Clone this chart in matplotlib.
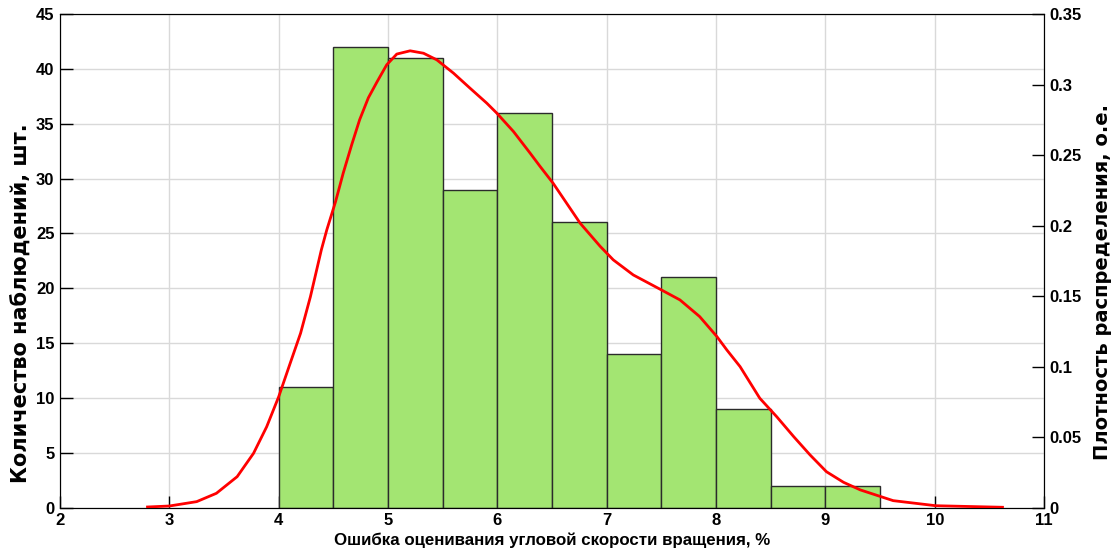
import numpy as np
import matplotlib
matplotlib.use("Agg")
import matplotlib.pyplot as plt

plt.rcParams["font.family"] = ["Liberation Sans", "DejaVu Sans"]
plt.rcParams["font.weight"] = "bold"

# histogram data
bin_left = [4.0, 4.5, 5.0, 5.5, 6.0, 6.5, 7.0, 7.5, 8.0, 8.5, 9.0]
counts = [11, 42, 41, 29, 36, 26, 14, 21, 9, 2, 2]
bin_width = 0.5

# density curve, points
curve_x = [2.80, 3.00, 3.25, 3.43, 3.62, 3.77, 3.89, 4.00, 4.105, 4.20, 4.29,
           4.39, 4.44, 4.52, 4.59, 4.668, 4.74, 4.82, 4.90, 4.927, 4.988,
           5.08, 5.202, 5.324, 5.446, 5.598, 5.75, 5.903, 5.995, 6.147, 6.30,
           6.39, 6.51, 6.757, 6.94, 7.06, 7.243, 7.50, 7.67, 7.85, 8.008,
           8.099, 8.22, 8.40, 8.555, 8.71, 8.86, 9.01, 9.166, 9.32, 9.62,
           10.01, 10.62]
curve_y = [0.0005, 0.0012, 0.0043, 0.0102, 0.022, 0.0386, 0.0574, 0.0787,
           0.1024, 0.1237, 0.1496, 0.1828, 0.197, 0.217, 0.2372, 0.2574,
           0.275, 0.2906, 0.3020, 0.3057, 0.3140, 0.3216, 0.3239, 0.3222,
           0.3175, 0.3081, 0.2974, 0.2868, 0.2797, 0.2667, 0.2513, 0.242,
           0.230, 0.2017, 0.1853, 0.1757, 0.165, 0.1544, 0.1473, 0.1355,
           0.1213, 0.1118, 0.100, 0.0776, 0.0645, 0.0504, 0.0374, 0.0255,
           0.018, 0.0126, 0.005, 0.0014, 0.0003]

fig = plt.figure(figsize=(11.14, 5.6), dpi=100)
ax = fig.add_axes([0.0539, 0.0934, 0.8833, 0.8816])

ax.bar(bin_left, counts, width=bin_width, align="edge",
       color="#a3e572", edgecolor="#2b2b2b", linewidth=1.0, zorder=2)
ax.set_xlim(2, 11)
ax.set_ylim(0, 45)
ax.set_xticks(range(2, 12))
ax.set_yticks(range(0, 46, 5))
ax.grid(True, color="#d9d9d9", linewidth=1.0, zorder=0)
ax.set_axisbelow(True)
ax.tick_params(direction="in", length=9, width=1, labelsize=12, pad=4)
ax.set_xlabel("Ошибка оценивания угловой скорости вращения, %",
              fontsize=12.2, fontweight="bold", labelpad=3)
ax.set_ylabel("Количество наблюдений, шт.", fontsize=15, fontweight="bold",
              family=["DejaVu Sans"])
ax.yaxis.set_label_coords(-0.029, 0.415)
for s in ax.spines.values():
    s.set_color("#262626")

ax2 = ax.twinx()
ax2.plot(curve_x, curve_y, color="#ff0000", linewidth=2.0, zorder=3,
         solid_joinstyle="round")
ax2.set_ylim(0, 0.35)
ax2.set_yticks([0, 0.05, 0.1, 0.15, 0.2, 0.25, 0.3, 0.35])
ax2.set_yticklabels(["0", "0.05", "0.1", "0.15", "0.2", "0.25", "0.3", "0.35"])
ax2.tick_params(direction="in", length=9, width=1, labelsize=12, pad=4)
ax2.set_ylabel("Плотность распределения, о.е.", fontsize=14,
               fontweight="bold", family=["DejaVu Sans"])
ax2.yaxis.set_label_coords(1.050, 0.457)

fig.savefig("out.png", dpi=100)
